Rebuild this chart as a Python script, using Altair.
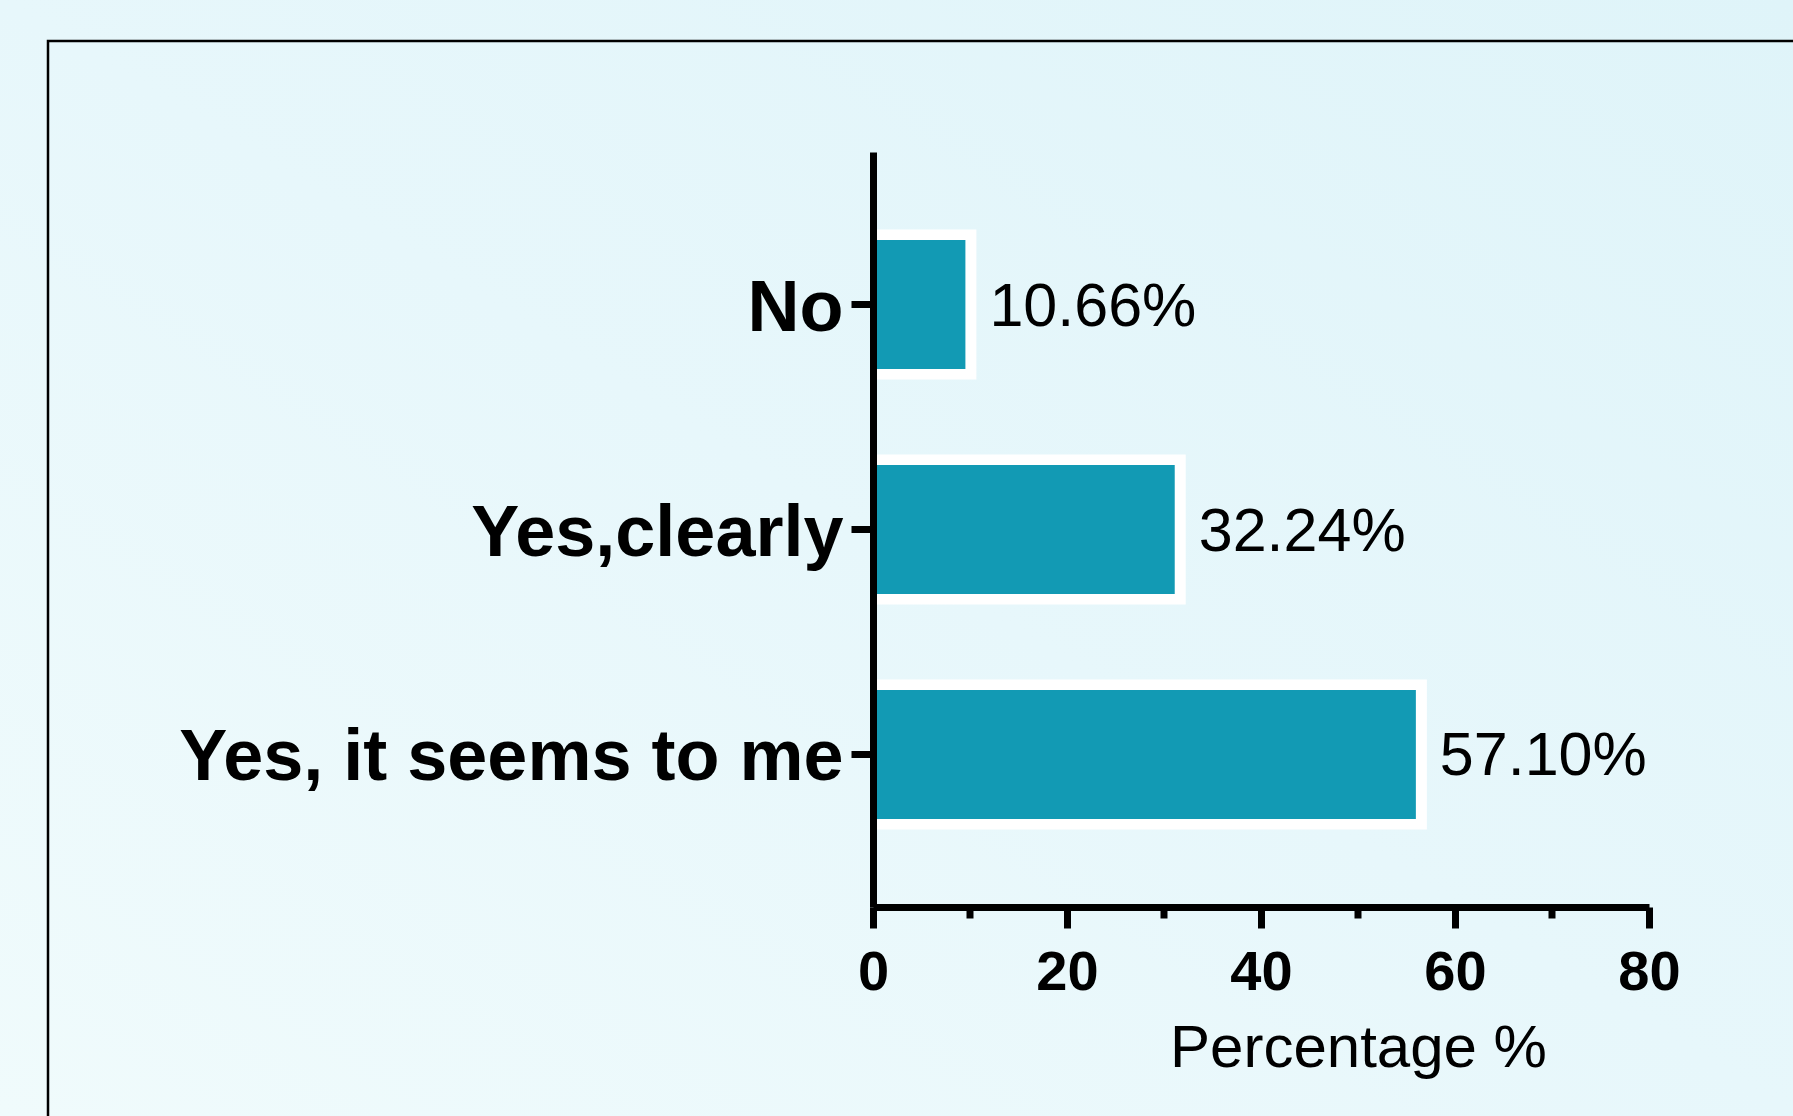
import altair as alt
import pandas as pd

# ---- data ----
categories = ["No", "Yes,clearly", "Yes, it seems to me"]
percentages = [10.66, 32.24, 57.10]
major_ticks = [0, 20, 40, 60, 80]
minor_ticks = [10, 30, 50, 70]
x_title = "Percentage %"

FONT = "Liberation Sans"
TEAL = "#129AB4"

W, H = 776, 755
PAD = {"left": 873, "top": 152, "right": 144, "bottom": 209}

df = pd.DataFrame({"cat": categories, "pct": percentages, "start": [0] * len(categories)})
minor_df = pd.DataFrame({"v": minor_ticks})
one = pd.DataFrame({"k": [0]})

x_scale = alt.Scale(domain=[0, 80], nice=False, zero=True)
y_scale = alt.Scale(domain=categories, paddingInner=0.38, paddingOuter=0.368)

# background gradient covering whole canvas
bg = alt.Chart(one).mark_rect(
    fill={"gradient": "linear", "x1": 0, "y1": 1, "x2": 1, "y2": 0,
          "stops": [{"offset": 0, "color": "#F0FBFC"},
                    {"offset": 0.5, "color": "#E7F7FB"},
                    {"offset": 1, "color": "#DFF4F9"}]},
    strokeWidth=0,
).encode(
    x=alt.value(-PAD["left"]), x2=alt.value(W + PAD["right"]),
    y=alt.value(-PAD["top"]), y2=alt.value(H + PAD["bottom"]),
)

# outer frame (extends past right / bottom edge)
frame = alt.Chart(one).mark_rect(
    fill=None, stroke="black", strokeWidth=2.5, filled=False
).encode(
    x=alt.value(48 - PAD["left"]), x2=alt.value(W + PAD["right"] + 30),
    y=alt.value(41 - PAD["top"]), y2=alt.value(H + PAD["bottom"] + 30),
)

x_axis = alt.Axis(values=major_ticks, title=x_title, grid=False, zindex=2,
                  domainColor="black", domainWidth=7,
                  tickColor="black", tickWidth=7, tickSize=21,
                  labelFont=FONT, labelFontSize=56, labelFontWeight="bold",
                  labelColor="black", labelPadding=61,
                  labelBaseline="alphabetic", labelFlush=False,
                  labelOverlap=False, labelBound=False, format="d",
                  titleFont=FONT, titleFontSize=60, titleFontWeight="normal",
                  titleColor="black", titleX=485, titleY=159,
                  titleAlign="center", titleBaseline="alphabetic")
y_axis = alt.Axis(title=None, zindex=2, domainColor="black", domainWidth=7,
                  tickColor="black", tickWidth=7, tickSize=22,
                  labelFont=FONT, labelFontSize=72, labelFontWeight="bold",
                  labelColor="black", labelPadding=8,
                  labelBaseline="alphabetic", labelOffset=26,
                  labelLimit=2000)

# white outline bar (outer edge at the value)
bars_white = alt.Chart(df).mark_bar(
    color="white", height={"band": 1.075},
).encode(
    x=alt.X("start:Q", scale=x_scale, axis=x_axis),
    x2=alt.X2("pct:Q"),
    y=alt.Y("cat:N", scale=y_scale, sort=categories, axis=y_axis),
)

# teal fill, inset inside the white outline
bars = alt.Chart(df).mark_bar(
    color=TEAL, height={"band": 0.925}, x2Offset=-11,
).encode(
    x=alt.X("start:Q", scale=x_scale),
    x2=alt.X2("pct:Q"),
    y=alt.Y("cat:N", scale=y_scale, sort=categories),
)

labels = alt.Chart(df).transform_calculate(
    lbl="format(datum.pct, '.2f') + '%'"
).mark_text(
    align="left", baseline="alphabetic", dx=13, dy=21,
    font=FONT, fontSize=61, color="black",
).encode(
    x=alt.X("pct:Q", scale=x_scale),
    y=alt.Y("cat:N", scale=y_scale, sort=categories),
    text="lbl:N",
)

minor = alt.Chart(minor_df).mark_rule(color="black", strokeWidth=7).encode(
    x=alt.X("v:Q", scale=x_scale),
    y=alt.value(H), y2=alt.value(H + 11.5),
)

chart = alt.layer(bg, frame, bars_white, bars, labels, minor).properties(
    width=W, height=H, padding=PAD, autosize="none",
).configure(background="#E6F7FA").configure_view(stroke=None)

chart.save("out.html", embed_options={"renderer": "svg", "actions": False})
